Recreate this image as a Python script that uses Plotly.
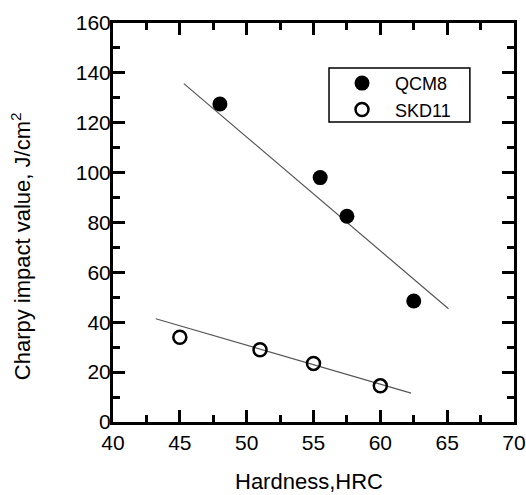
import plotly.graph_objects as go

qcm8_x = [48, 55.5, 57.5, 62.5]
qcm8_y = [127.5, 98, 82.5, 48.5]
skd11_x = [45, 51, 55, 60]
skd11_y = [34, 29, 23.5, 14.5]
qcm8_fit_x = [45.3, 65.1]
qcm8_fit_y = [135.7, 45.4]
skd11_fit_x = [43.2, 62.3]
skd11_fit_y = [41.4, 11.6]

font = "Liberation Sans, Arial, sans-serif"

fig = go.Figure()
fig.add_trace(go.Scatter(x=qcm8_fit_x, y=qcm8_fit_y, mode="lines",
                         line=dict(color="#555555", width=1.2), showlegend=False))
fig.add_trace(go.Scatter(x=skd11_fit_x, y=skd11_fit_y, mode="lines",
                         line=dict(color="#555555", width=1.2), showlegend=False))
fig.add_trace(go.Scatter(x=qcm8_x, y=qcm8_y, mode="markers", name="QCM8",
                         marker=dict(symbol="circle", size=15, color="black")))
fig.add_trace(go.Scatter(x=skd11_x, y=skd11_y, mode="markers", name="SKD11",
                         marker=dict(symbol="circle-open", size=13, color="black",
                                     line=dict(width=2.5, color="black"))))

axis_common = dict(
    showline=True, linecolor="black", linewidth=3, mirror="allticks",
    ticks="inside", ticklen=12, tickwidth=2.5, tickcolor="black",
    showgrid=False, zeroline=False, automargin=False,
    tickfont=dict(family=font, size=21, color="black"),
)

fig.update_xaxes(range=[40, 70], dtick=5,
                 minor=dict(ticks="inside", ticklen=7, tickwidth=2.5, tickcolor="black", dtick=2.5),
                 **axis_common)
fig.update_yaxes(range=[0, 160], dtick=20, ticklabelstandoff=-5,
                 minor=dict(ticks="inside", ticklen=7, tickwidth=2.5, tickcolor="black", dtick=10),
                 **axis_common)

fig.add_annotation(text="Hardness,HRC", xref="paper", yref="paper",
                   x=0.489, y=-0.150, xanchor="center", yanchor="middle",
                   showarrow=False, font=dict(family=font, size=22, color="black"))
fig.add_annotation(text="Charpy impact value, J/cm<sup>2</sup>", xref="paper", yref="paper",
                   x=-0.229, y=0.441, xanchor="center", yanchor="middle", textangle=-90,
                   showarrow=False, font=dict(family=font, size=22, color="black"))

fig.add_shape(type="rect", xref="paper", yref="paper",
              x0=0.5387, x1=0.890, y0=0.752, y1=0.887,
              line=dict(color="black", width=1.5), fillcolor="rgba(0,0,0,0)")

fig.update_layout(
    width=526, height=495,
    margin=dict(l=113, r=12, t=23, b=73, autoexpand=False),
    paper_bgcolor="white", plot_bgcolor="white",
    font=dict(family=font, color="black"),
    showlegend=True,
    legend=dict(x=0.5387, y=0.895, xanchor="left", yanchor="top",
                borderwidth=0, bgcolor="rgba(0,0,0,0)",
                font=dict(family=font, size=18, color="black"),
                itemwidth=56),
)

fig.write_html("out.html", config={"displayModeBar": False},
               post_script="document.body.style.margin='0';document.body.style.overflow='hidden';")
